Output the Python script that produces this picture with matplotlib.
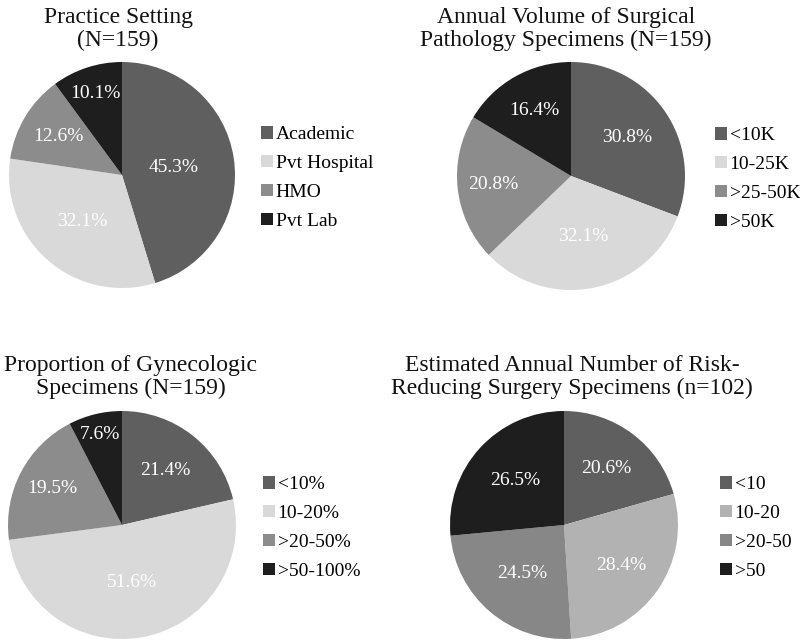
import matplotlib
matplotlib.use("Agg")
import numpy as np
import matplotlib.pyplot as plt
from matplotlib.patches import Patch

plt.rcParams['font.family'] = ['Liberation Serif', 'DejaVu Serif']

W, H = 800, 642

# ---- data ----
practice_labels = ["Academic", "Pvt Hospital", "HMO", "Pvt Lab"]
practice_values = [45.3, 32.1, 12.6, 10.1]

volume_labels = ["<10K", "10-25K", ">25-50K", ">50K"]
volume_values = [30.8, 32.1, 20.8, 16.4]

gyn_labels = ["<10%", "10-20%", ">20-50%", ">50-100%"]
gyn_values = [21.4, 51.6, 19.5, 7.6]

rrs_labels = ["<10", "10-20", ">20-50", ">50"]
rrs_values = [20.6, 28.4, 24.5, 26.5]

# ---- styles ----
colors_a = ["#5f5f5f", "#d9d9d9", "#8c8c8c", "#1e1e1e"]
colors_b = ["#5f5f5f", "#b2b2b2", "#878787", "#1e1e1e"]

panels = [
    dict(title="Practice Setting\n(N=159)", labels=practice_labels, values=practice_values,
         colors=colors_a, center=(122, 175), r=113, title_xy=(118, 29), leg_xy=(261, 178),
         label_dist=[0.46, 0.54, 0.66, 0.76]),
    dict(title="Annual Volume of Surgical\nPathology Specimens (N=159)", labels=volume_labels,
         values=volume_values, colors=colors_a, center=(571, 176), r=114, title_xy=(566, 29),
         leg_xy=(715, 179), label_dist=[0.6, 0.54, 0.69, 0.66]),
    dict(title="Proportion of Gynecologic\nSpecimens (N=159)", labels=gyn_labels, values=gyn_values,
         colors=colors_a, center=(122, 525), r=114, title_xy=(131, 377), leg_xy=(263, 528),
         label_dist=[0.61, 0.51, 0.69, 0.82]),
    dict(title="Estimated Annual Number of Risk-\nReducing Surgery Specimens (n=102)",
         labels=rrs_labels, values=rrs_values, colors=colors_b, center=(564, 525), r=114,
         title_xy=(572, 377), leg_xy=(720, 528), label_dist=[0.62, 0.62, 0.56, 0.58]),
]

fig = plt.figure(figsize=(W / 100, H / 100), dpi=100)
fig.patch.set_facecolor("white")

for p in panels:
    cx, cy = p["center"]
    r = p["r"]
    ax = fig.add_axes([(cx - r) / W, (H - cy - r) / H, 2 * r / W, 2 * r / H])
    wedges, _ = ax.pie(p["values"], colors=p["colors"], startangle=90, counterclock=False,
                       wedgeprops=dict(linewidth=0))
    for w, v, d in zip(wedges, p["values"], p["label_dist"]):
        ang = np.deg2rad((w.theta1 + w.theta2) / 2)
        ax.text(d * np.cos(ang), d * np.sin(ang), f"{v:.1f}%", color="white", fontsize=14,
                ha="center", va="center")
    ax.set_xlim(-1, 1)
    ax.set_ylim(-1, 1)
    ax.set_aspect("equal")
    ax.axis("off")
    tx, ty = p["title_xy"]
    fig.text(tx / W, 1 - ty / H, p["title"], ha="center", va="center", fontsize=17,
             linespacing=1.15, color="#111111")
    handles = [Patch(facecolor=c, edgecolor="none") for c in p["colors"]]
    lx, ly = p["leg_xy"]
    fig.legend(handles, p["labels"], loc="center left", bbox_to_anchor=(lx / W, 1 - ly / H),
               frameon=False, fontsize=14, handlelength=0.6, handleheight=0.6,
               handletextpad=0.15, labelspacing=0.6, borderpad=0, borderaxespad=0)

fig.savefig("out.png", dpi=100, facecolor="white")
